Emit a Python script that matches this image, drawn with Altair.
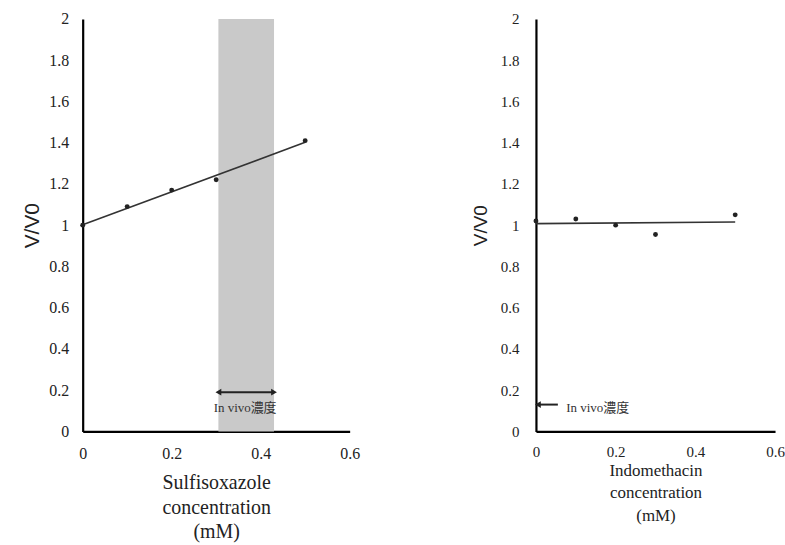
import altair as alt
import pandas as pd

# ---- data ----
sulf_x = [0.0, 0.1, 0.2, 0.3, 0.5]
sulf_y = [1.00, 1.09, 1.17, 1.22, 1.41]
indo_x = [0.0, 0.1, 0.2, 0.3, 0.5]
indo_y = [1.02, 1.03, 1.00, 0.955, 1.05]

band_x = [0.305]
band_x2 = [0.43]
band_y = [0.0]
band_y2 = [2.0]

# in-vivo range arrow (left) and marker arrow (right)
left_arrow_x = [0.305]
left_arrow_x2 = [0.43]
left_arrow_y = [0.19]
left_label = ["In vivo濃度"]
left_label_x = [0.365]
left_label_y = [0.115]

right_arrow_x = [0.005]
right_arrow_x2 = [0.055]
right_arrow_y = [0.13]
right_label_x = [0.076]
right_label_y = [0.115]

y_ticks = [0, 0.2, 0.4, 0.6, 0.8, 1, 1.2, 1.4, 1.6, 1.8, 2]
x_ticks = [0, 0.2, 0.4, 0.6]

SERIF = "Liberation Serif"
SERIF_CJK = "Liberation Serif, Noto Sans CJK JP"
SANS = "Liberation Sans"

def xscale():
    return alt.Scale(domain=[0, 0.6], nice=False, zero=False)

def yscale():
    return alt.Scale(domain=[0, 2], nice=False)

def y_axis(title_x, label_pad, title_size, label_size):
    return alt.Axis(values=y_ticks, format="~g", grid=False, ticks=False,
                    domainColor="black", domainWidth=2.2,
                    labelFont=SERIF, labelFontSize=label_size, labelColor="#222",
                    labelPadding=label_pad, labelFlush=False,
                    title="V/V0", titleFont=SANS, titleFontSize=title_size,
                    titleFontWeight="normal", titleColor="#222",
                    titleX=title_x, titleY=207, titleAngle=270,
                    titleAlign="center", titleBaseline="middle")

def x_axis(title, title_y, title_size, line_h, label_size, label_pad):
    return alt.Axis(values=x_ticks, format="~g", grid=False, ticks=False,
                    domainColor="black", domainWidth=2.2,
                    labelFont=SERIF, labelFontSize=label_size, labelColor="#222",
                    labelPadding=label_pad, labelFlush=False,
                    title=title, titleFont=SERIF, titleFontSize=title_size,
                    titleFontWeight="normal", titleColor="#222",
                    titleY=title_y, titleBaseline="top",
                    titleLineHeight=line_h)

# ---------- left panel ----------
sulf = pd.DataFrame({"x": sulf_x, "y": sulf_y})
band = pd.DataFrame({"x": band_x, "x2": band_x2, "y": band_y, "y2": band_y2})
la = pd.DataFrame({"x": left_arrow_x, "x2": left_arrow_x2, "y": left_arrow_y})
la_heads = pd.DataFrame({"x": left_arrow_x + left_arrow_x2,
                         "y": left_arrow_y * 2,
                         "shape": ["triangle-left", "triangle-right"]})
ll = pd.DataFrame({"x": left_label_x, "y": left_label_y, "t": left_label})

L_band = alt.Chart(band).mark_rect(color="#c9c9c9").encode(
    x=alt.X("x:Q", scale=xscale(),
            axis=x_axis(["Sulfisoxazole", "concentration", "(mM)"], 41, 20, 25, 16, 14)),
    x2="x2:Q",
    y=alt.Y("y:Q", scale=yscale(), axis=y_axis(-50, 14, 21, 16)),
    y2="y2:Q",
)
L_line = alt.Chart(sulf).transform_regression("x", "y", extent=[0, 0.5]).mark_line(
    color="#333", strokeWidth=1.6).encode(x="x:Q", y="y:Q")
L_pts = alt.Chart(sulf).mark_circle(color="#222", size=24, opacity=1).encode(
    x="x:Q", y="y:Q")
L_arrow = alt.Chart(la).mark_rule(color="#222", strokeWidth=2).encode(
    x="x:Q", x2="x2:Q", y="y:Q")
L_heads = alt.Chart(la_heads).mark_point(filled=True, color="#222", size=45, opacity=1).encode(
    x="x:Q", y="y:Q", shape=alt.Shape("shape:N", scale=None))
L_text = alt.Chart(ll).mark_text(font=SERIF_CJK, fontSize=13, color="#333").encode(
    x="x:Q", y="y:Q", text="t:N")

left = alt.layer(L_band, L_line, L_pts, L_arrow, L_heads, L_text).properties(
    width=268, height=414)

# ---------- right panel ----------
indo = pd.DataFrame({"x": indo_x, "y": indo_y})
ra = pd.DataFrame({"x": right_arrow_x, "x2": right_arrow_x2, "y": right_arrow_y})
rl = pd.DataFrame({"x": right_label_x, "y": right_label_y, "t": left_label})

R_line = alt.Chart(indo).transform_regression("x", "y", extent=[0, 0.5]).mark_line(
    color="#333", strokeWidth=1.6).encode(
    x=alt.X("x:Q", scale=xscale(),
            axis=x_axis(["Indomethacin", "concentration", "(mM)"], 31, 17, 22.5, 15, 13)),
    y=alt.Y("y:Q", scale=yscale(), axis=y_axis(-56, 17, 19, 15)))
R_pts = alt.Chart(indo).mark_circle(color="#222", size=24, opacity=1).encode(
    x="x:Q", y="y:Q")
R_arrow = alt.Chart(ra).mark_rule(color="#222", strokeWidth=2).encode(
    x="x:Q", x2="x2:Q", y="y:Q")
R_head = alt.Chart(ra).mark_point(filled=True, color="#222", size=45, opacity=1,
                                  shape="triangle-left").encode(x="x:Q", y="y:Q")
R_text = alt.Chart(rl).mark_text(font=SERIF_CJK, fontSize=13, color="#333", align="left").encode(
    x="x:Q", y="y:Q", text="t:N")

right = alt.layer(R_line, R_pts, R_arrow, R_head, R_text).properties(
    width=240, height=414)

chart = alt.hconcat(left, right, spacing=187, bounds="flush").properties(
    padding={"left": 22, "top": 10, "right": 0, "bottom": 0},
    background="white",
).configure_view(stroke=None)

chart.save("out.html", embed_options={"renderer": "svg", "actions": False})
